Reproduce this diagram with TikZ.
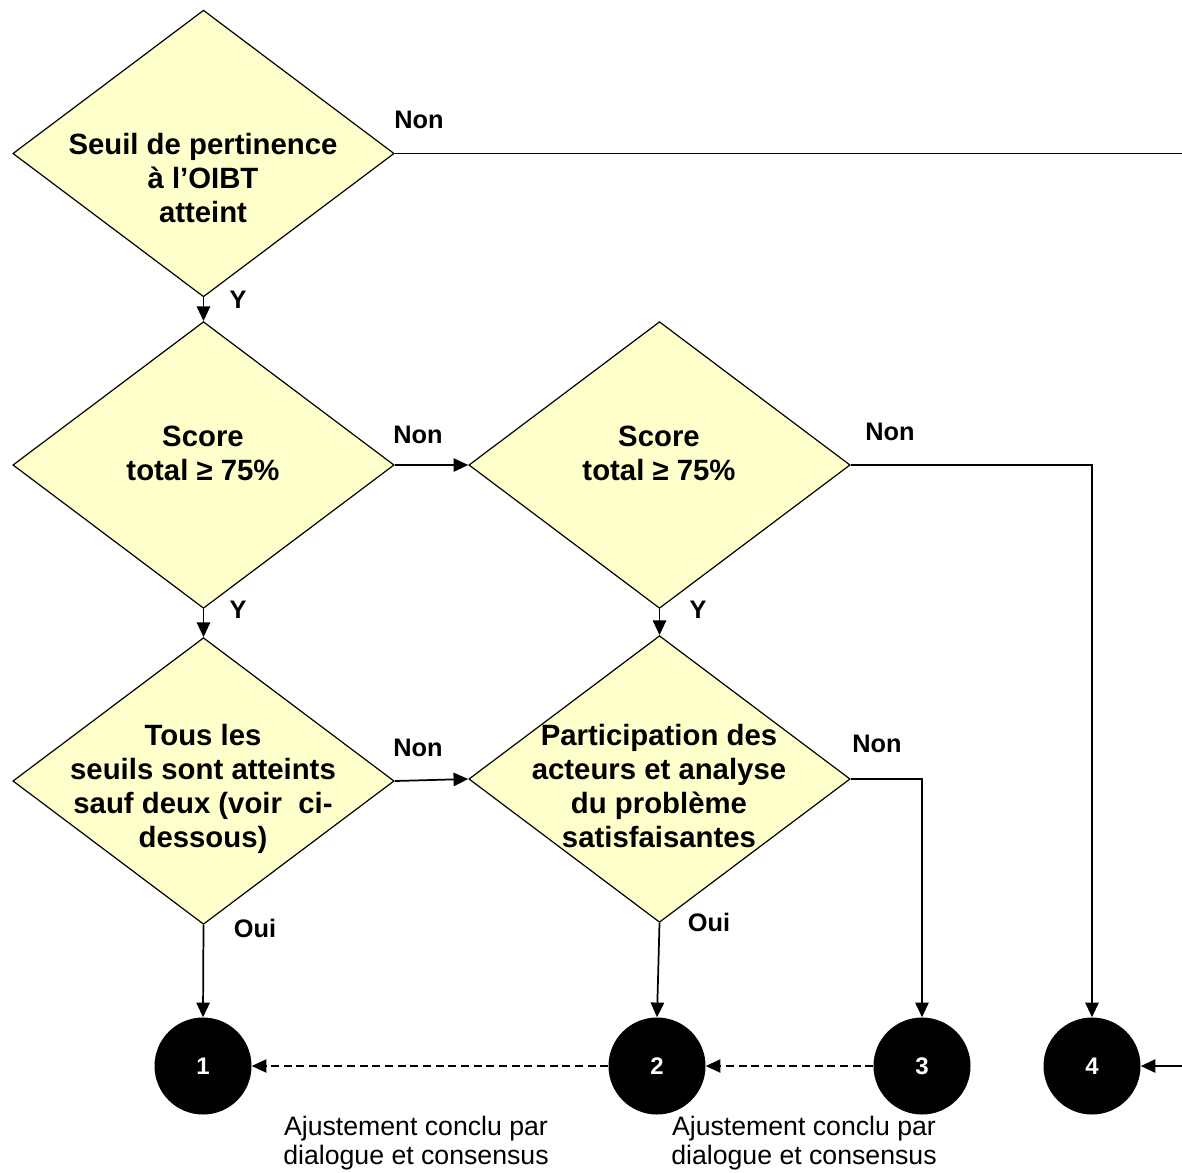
\documentclass[tikz,border=0pt]{standalone}
\usepackage{fontspec}
\setmainfont{Liberation Sans}
\usetikzlibrary{shapes.geometric,arrows.meta}
\definecolor{dfill}{RGB}{255,255,204}
\begin{document}
\begin{tikzpicture}[x=0.75pt,y=-0.75pt,
  decision/.style={diamond, draw=black, line width=0.9pt, fill=dfill, minimum width=286pt, minimum height=215pt, inner sep=0pt},
  dtext/.style={font=\bfseries\fontsize{22}{25.5}\selectfont, align=center, inner sep=0pt},
  endpt/.style={circle, fill=black, minimum size=72.75pt, inner sep=0pt, text=white, font=\bfseries\fontsize{18}{20}\selectfont},
  lbl/.style={font=\bfseries\fontsize{19}{22}\selectfont, inner sep=0pt},
  note/.style={font=\fontsize{20}{21.5}\selectfont, align=center, inner sep=0pt},
  flow/.style={line width=1.3pt, -{Triangle[length=11pt,width=10pt]}},
  plain/.style={line width=1.3pt},
  adjust/.style={line width=0.9pt, dash pattern=on 6pt off 3.5pt, -{Triangle[length=11pt,width=10pt]}}
]
\useasboundingbox (0,0) rectangle (1182,1172);

% decisions
\node[decision] (d1) at (203.5,153.5) {};
\node[decision] (d2) at (203.5,465) {};
\node[decision] (d3) at (659.5,465) {};
\node[decision] (d4) at (203.5,781) {};
\node[decision] (d5) at (659.5,779) {};

\node[dtext] (t1) at (203,178) {Seuil de pertinence\\à l’OIBT\\atteint};
\node[dtext] (t2) at (203,453) {Score\\total ≥ 75\%};
\node[dtext] (t3) at (659,453) {Score\\total ≥ 75\%};
\node[dtext] (t4) at (203,789) {Tous les\\seuils sont atteints\\sauf deux (voir\ \ ci-\\dessous)};
\node[dtext] (t5) at (659,786) {Participation des\\acteurs et analyse\\du problème\\satisfaisantes};

% end points
\node[endpt] (c1) at (203,1066) {1};
\node[endpt] (c2) at (657,1066) {2};
\node[endpt] (c3) at (922,1066) {3};
\node[endpt] (c4) at (1092,1066) {4};

\coordinate (off1) at (1182,153.5);
\coordinate (off2) at (1182,1066);

% connectors
\draw[plain] (d1.east) -- (off1);
\draw[flow] (off2) -- (c4.east);
\draw[flow] (d1.south) -- (d2.north);
\draw[flow] (d2.east) -- (d3.west);
\draw[flow] (d3.east) -| (c4.north);
\draw[flow] (d2.south) -- (d4.north);
\draw[flow] (d3.south) -- (d5.north);
\draw[flow] (d4.east) -- (d5.west);
\draw[flow] (d5.east) -| (c3.north);
\draw[flow] (d4.south) -- (c1.north);
\draw[flow] (d5.south) -- (c2.north);
\draw[adjust] (c3.west) -- (c2.east);
\draw[adjust] (c2.west) -- (c1.east);

% labels
\node[lbl] (l1) at (419,120) {Non};
\node[lbl] (l2) at (418,435) {Non};
\node[lbl] (l3) at (890,432) {Non};
\node[lbl] (l4) at (418,748) {Non};
\node[lbl] (l5) at (877,744) {Non};
\node[lbl] (y1) at (238,300) {Y};
\node[lbl] (y2) at (238,610) {Y};
\node[lbl] (y3) at (698,610) {Y};
\node[lbl] (o1) at (255,928) {Oui};
\node[lbl] (o2) at (709,922) {Oui};

\node[note] (n1) at (416,1143) {Ajustement conclu par\\dialogue et consensus};
\node[note] (n2) at (804,1143) {Ajustement conclu par\\dialogue et consensus};
\end{tikzpicture}
\end{document}
